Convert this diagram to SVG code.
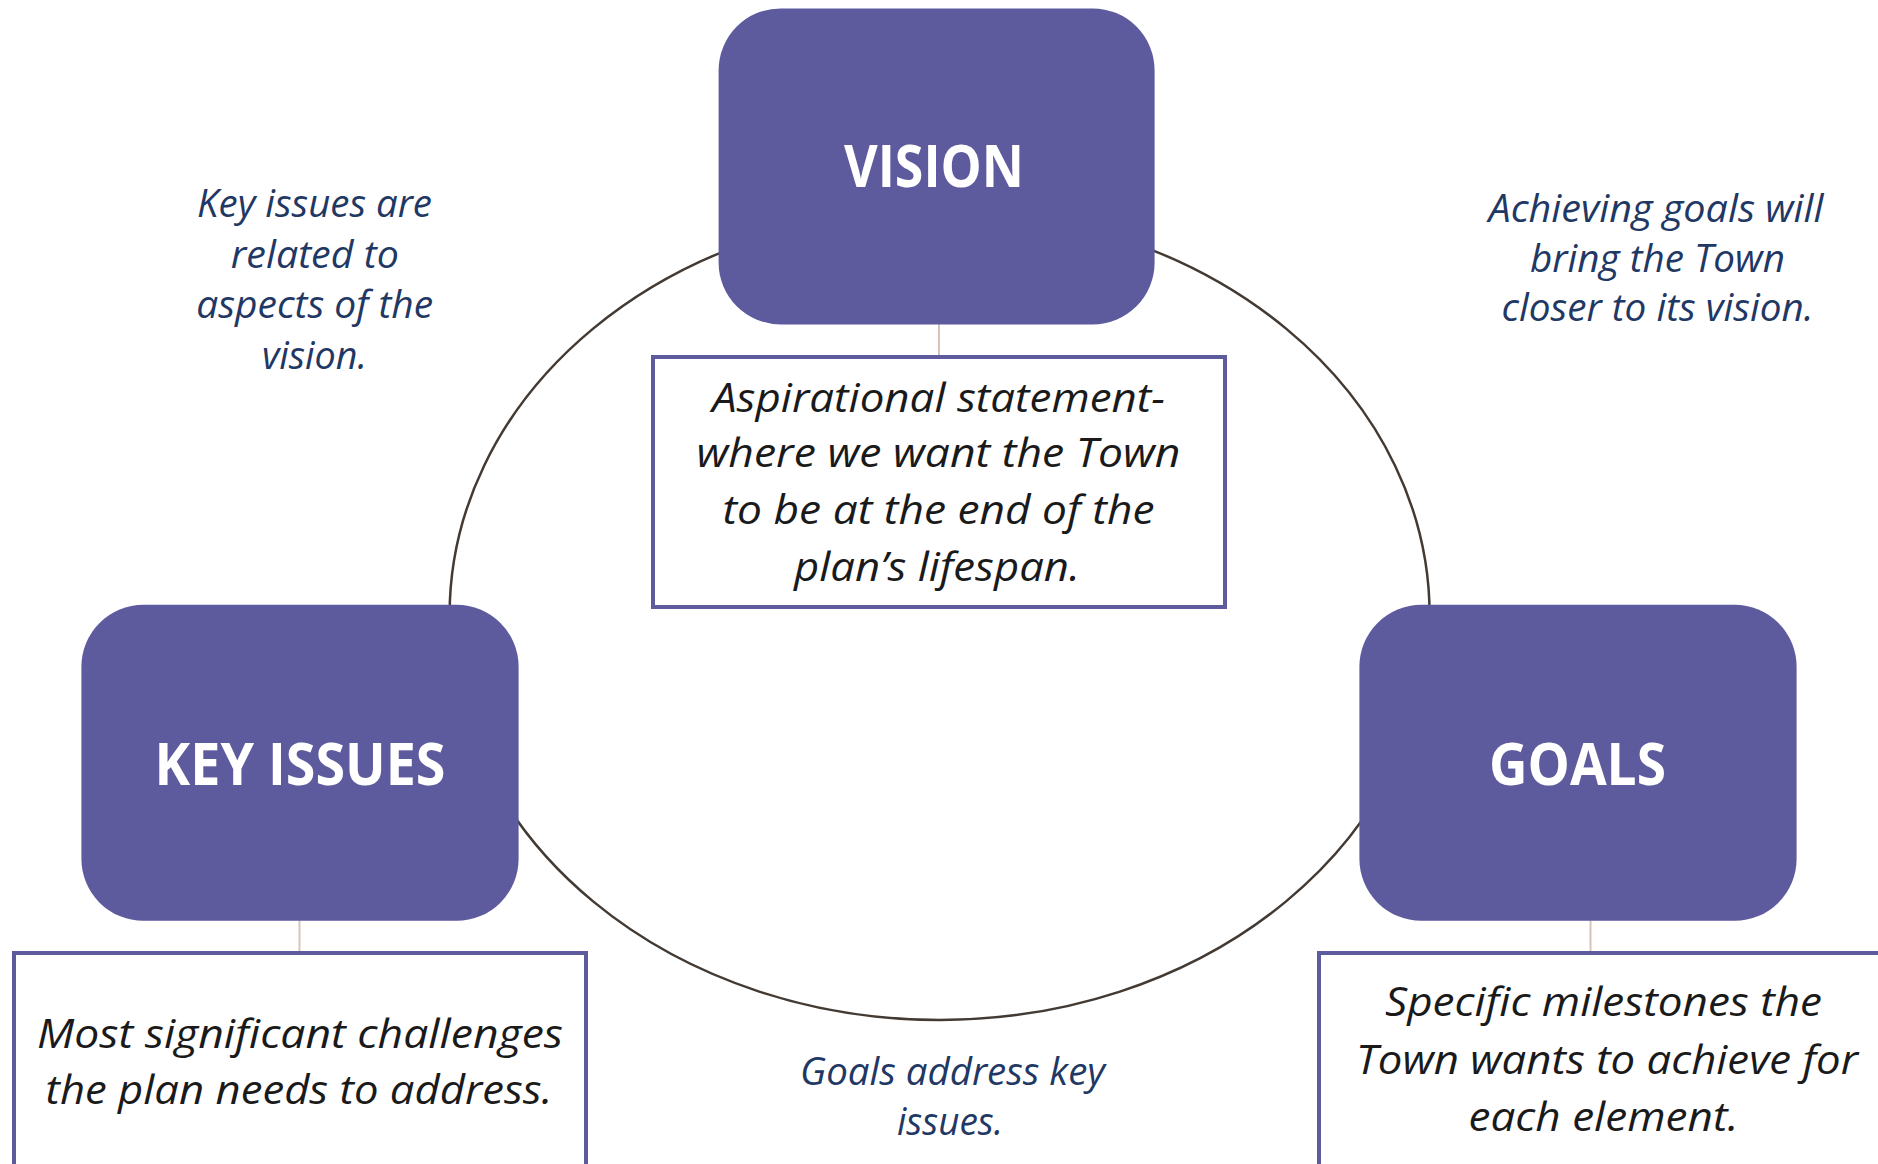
<svg xmlns="http://www.w3.org/2000/svg" width="1878" height="1164" viewBox="0 0 1878 1164">
  <style>
    .node { fill: #5e5a9e; }
    .label { font-family: "Open Sans", "Noto Sans", "Liberation Sans", sans-serif; font-weight: 700; font-size: 59px; fill: #ffffff; text-anchor: middle; }
    .descbox { fill: #ffffff; stroke: #5e5a9e; stroke-width: 4; }
    .desc { font-family: "Open Sans", "Noto Sans", "Liberation Sans", sans-serif; font-style: italic; font-size: 40px; fill: #1a1a1a; text-anchor: middle; }
    .note { font-family: "Open Sans", "Noto Sans", "Liberation Sans", sans-serif; font-style: italic; font-size: 37.5px; fill: #1f3864; text-anchor: middle; }
    .cycle { fill: none; stroke: #433a33; stroke-width: 2.5; }
    .link { stroke: #d9c3b8; stroke-width: 2; }
  </style>
  <rect width="1878" height="1164" fill="#ffffff"/>

  <g id="connectors">
    <ellipse class="cycle" cx="939.6" cy="615" rx="490" ry="405"/>
    <line class="link" x1="939" y1="324" x2="939" y2="356"/>
    <line class="link" x1="299.5" y1="920" x2="299.5" y2="953"/>
    <line class="link" x1="1590.5" y1="920" x2="1590.5" y2="953"/>
  </g>

  <g id="vision">
    <rect class="node" x="718.6" y="8.4" width="436" height="316" rx="62" ry="62"/>
    <text class="label" x="934" y="187" textLength="180" lengthAdjust="spacingAndGlyphs">VISION</text>
  </g>

  <g id="vision-desc">
    <rect class="descbox" x="653" y="357" width="572" height="250"/>
    <text class="desc" x="938.5" y="411.5" textLength="453" lengthAdjust="spacingAndGlyphs">Aspirational statement-</text>
    <text class="desc" x="938.5" y="466.7" textLength="484" lengthAdjust="spacingAndGlyphs">where we want the Town</text>
    <text class="desc" x="938.5" y="524" textLength="432" lengthAdjust="spacingAndGlyphs">to be at the end of the</text>
    <text class="desc" x="937" y="580.5" textLength="286" lengthAdjust="spacingAndGlyphs">plan’s lifespan.</text>
  </g>

  <g id="key-issues">
    <rect class="node" x="81.4" y="604.8" width="437.2" height="316" rx="62" ry="62"/>
    <text class="label" x="300" y="784.5" textLength="291" lengthAdjust="spacingAndGlyphs">KEY ISSUES</text>
  </g>

  <g id="key-issues-desc">
    <rect class="descbox" x="14" y="953" width="572" height="260"/>
    <text class="desc" x="300" y="1047.5" textLength="526" lengthAdjust="spacingAndGlyphs">Most significant challenges</text>
    <text class="desc" x="299" y="1103.5" textLength="507" lengthAdjust="spacingAndGlyphs">the plan needs to address.</text>
  </g>

  <g id="goals">
    <rect class="node" x="1359.4" y="604.8" width="437.2" height="316" rx="62" ry="62"/>
    <text class="label" x="1577.5" y="784.5" textLength="177" lengthAdjust="spacingAndGlyphs">GOALS</text>
  </g>

  <g id="goals-desc">
    <rect class="descbox" x="1319" y="953" width="572" height="260"/>
    <text class="desc" x="1603.5" y="1016" textLength="437" lengthAdjust="spacingAndGlyphs">Specific milestones the</text>
    <text class="desc" x="1607" y="1073.5" textLength="502" lengthAdjust="spacingAndGlyphs">Town wants to achieve for</text>
    <text class="desc" x="1603.5" y="1131" textLength="270" lengthAdjust="spacingAndGlyphs">each element.</text>
  </g>

  <g id="note-key-vision">
    <text class="note" x="314.5" y="216.7" textLength="235" lengthAdjust="spacingAndGlyphs">Key issues are</text>
    <text class="note" x="314.8" y="268" textLength="168" lengthAdjust="spacingAndGlyphs">related to</text>
    <text class="note" x="314.7" y="318.3" textLength="237" lengthAdjust="spacingAndGlyphs">aspects of the</text>
    <text class="note" x="314.5" y="368.5" textLength="105" lengthAdjust="spacingAndGlyphs">vision.</text>
  </g>

  <g id="note-goals-vision">
    <text class="note" x="1656" y="221.7" textLength="335" lengthAdjust="spacingAndGlyphs">Achieving goals will</text>
    <text class="note" x="1657.5" y="271.7" textLength="255" lengthAdjust="spacingAndGlyphs">bring the Town</text>
    <text class="note" x="1657.5" y="320.5" textLength="312" lengthAdjust="spacingAndGlyphs">closer to its vision.</text>
  </g>

  <g id="note-goals-key">
    <text class="note" x="952.5" y="1085" textLength="305" lengthAdjust="spacingAndGlyphs">Goals address key</text>
    <text class="note" x="950" y="1135" textLength="106" lengthAdjust="spacingAndGlyphs">issues.</text>
  </g>
</svg>
